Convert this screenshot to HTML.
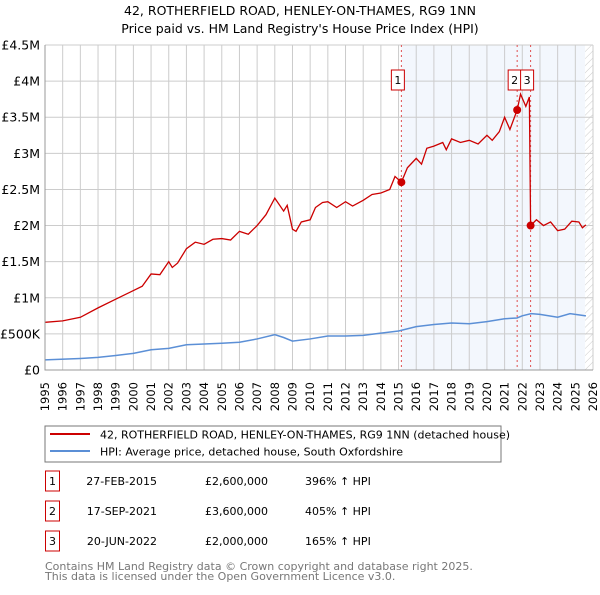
<!DOCTYPE html>
<html><head><meta charset="utf-8"><style>
body{margin:0;background:#fff;font-family:"Liberation Sans","DejaVu Sans",sans-serif;}
svg text{font-family:"DejaVu Sans","Liberation Sans",sans-serif;}
</style></head><body>
<svg id="c" width="600" height="590" xmlns="http://www.w3.org/2000/svg">
<defs><pattern id="hatch" width="5" height="5" patternUnits="userSpaceOnUse" patternTransform="rotate(45)"><line x1="0" y1="0" x2="0" y2="5" stroke="#ccc" stroke-width="1"/></pattern></defs>
<text x="300" y="15" text-anchor="middle" font-size="12.5" fill="#000">42, ROTHERFIELD ROAD, HENLEY-ON-THAMES, RG9 1NN</text>
<text x="300" y="33" text-anchor="middle" font-size="12.5" fill="#000">Price paid vs. HM Land Registry's House Price Index (HPI)</text>
<g id="grid"></g><g id="marks"></g><g id="axes"></g>
<rect x="45" y="426" width="456" height="36" fill="#fff" stroke="#777"/>
<line x1="50" y1="434" x2="90" y2="434" stroke="#cc0000" stroke-width="2"/>
<text x="100" y="438.5" font-size="11">42, ROTHERFIELD ROAD, HENLEY-ON-THAMES, RG9 1NN (detached house)</text>
<line x1="50" y1="451" x2="90" y2="451" stroke="#5b8fd6" stroke-width="2"/>
<text x="100" y="455.5" font-size="11">HPI: Average price, detached house, South Oxfordshire</text>
<g id="table" font-size="11"></g>
<text x="45" y="570" font-size="11" fill="#777">Contains HM Land Registry data © Crown copyright and database right 2025.</text>
<text x="45" y="580" font-size="11" fill="#777">This data is licensed under the Open Government Licence v3.0.</text>
</svg>
<script>
const priceYears=[1995,1996,1997,1998,1999,2000,2000.5,2001,2001.5,2002,2002.2,2002.5,2003,2003.5,2004,2004.5,2005,2005.5,2006,2006.5,2007,2007.5,2008,2008.5,2008.7,2009,2009.2,2009.5,2010,2010.3,2010.7,2011,2011.5,2012,2012.4,2013,2013.5,2014,2014.5,2014.8,2015.16,2015.5,2016,2016.3,2016.6,2017,2017.5,2017.7,2018,2018.5,2019,2019.5,2020,2020.3,2020.7,2021,2021.3,2021.71,2021.9,2022.2,2022.4,2022.47,2022.8,2023.2,2023.6,2024,2024.4,2024.8,2025.2,2025.4,2025.6];
const priceValues=[660,680,730,860,980,1100,1160,1330,1320,1500,1420,1480,1680,1770,1740,1810,1820,1800,1920,1880,2000,2150,2380,2200,2280,1950,1920,2050,2080,2250,2320,2330,2250,2330,2270,2350,2430,2450,2500,2680,2600,2800,2930,2850,3070,3100,3150,3050,3200,3150,3180,3130,3250,3180,3300,3500,3330,3600,3820,3650,3780,2000,2080,2000,2050,1930,1950,2060,2050,1970,2010];
const hpiYears=[1995,1997,1998,1999,2000,2001,2002,2003,2004,2005,2006,2007,2008,2008.5,2009,2010,2011,2012,2013,2014,2015,2016,2017,2018,2019,2020,2021,2021.7,2022,2022.5,2023,2024,2024.7,2025.6];
const hpiValues=[140,160,175,200,230,280,300,350,360,370,385,430,490,450,400,430,470,470,480,510,540,600,630,650,640,670,710,720,750,780,770,730,780,750];
const yTicks=[0,500,1000,1500,2000,2500,3000,3500,4000,4500];
const yTickLabels=["£0","£500K","£1M","£1.5M","£2M","£2.5M","£3M","£3.5M","£4M","£4.5M"];
const xTicks=[1995,1996,1997,1998,1999,2000,2001,2002,2003,2004,2005,2006,2007,2008,2009,2010,2011,2012,2013,2014,2015,2016,2017,2018,2019,2020,2021,2022,2023,2024,2025,2026];
const saleYears=[2015.16,2021.71,2022.47];
const saleValues=[2600,3600,2000];
const saleLabels=["1","2","3"];
const saleDates=["27-FEB-2015","17-SEP-2021","20-JUN-2022"];
const salePrices=["£2,600,000","£3,600,000","£2,000,000"];
const saleHpi=["396% ↑ HPI","405% ↑ HPI","165% ↑ HPI"];

const L=45,R=593,T=45,B=370;
const X=y=>L+(y-1995)/(2026-1995)*(R-L);
const Y=v=>B-v/4500*(B-T);
const NS="http://www.w3.org/2000/svg";
function mk(parent,tag,attrs){const e=document.createElementNS(NS,tag);for(const k in attrs)e.setAttribute(k,attrs[k]);document.getElementById(parent).appendChild(e);return e;}
let e;
e=mk('grid','rect',{x:X(saleYears[0]),y:T,width:X(2025.55)-X(saleYears[0]),height:B-T,fill:'#eef3fc',opacity:0.7});


e=mk('grid','rect',{x:X(2025.55),y:T,width:R-X(2025.55),height:B-T,fill:'url(#hatch)'});


xTicks.forEach(t=>{
 e=mk('grid','line',{x1:X(t),x2:X(t),y1:T,y2:B,stroke:'#ccc','stroke-width':1});
 
 
 e=mk('axes','text',{x:0,y:0,'text-anchor':'end','font-size':11.5,transform:`translate(${X(t)+4},382) rotate(-90)`});
 e.textContent=t;
 
 
});
yTicks.forEach((t,i)=>{
 e=mk('grid','line',{x1:L,x2:R,y1:Y(t),y2:Y(t),stroke:'#ccc','stroke-width':1});
 
 
 e=mk('axes','text',{x:40,y:Y(t)+4.5,'text-anchor':'end','font-size':12.5});
 e.textContent=yTickLabels[i];
 
 
});
e=mk('axes','path',{d:`M${L},${T}V${B}H${R}`,fill:'none',stroke:'#999'});


saleYears.forEach((s,i)=>{
 e=mk('marks','line',{x1:X(s),x2:X(s),y1:T,y2:B,stroke:'#e05050','stroke-dasharray':'2,3','stroke-width':1});
 
 
});
e=mk('marks','polyline',{points:hpiYears.map((y,i)=>X(y)+','+Y(hpiValues[i])).join(' '),fill:'none',stroke:'#5b8fd6','stroke-width':1.5});


e=mk('marks','polyline',{points:priceYears.map((y,i)=>X(y)+','+Y(priceValues[i])).join(' '),fill:'none',stroke:'#cc0000','stroke-width':1.3});


saleYears.forEach((s,i)=>{
 e=mk('marks','circle',{cx:X(s),cy:Y(saleValues[i]),r:4,fill:'#cc0000'});
 
 
 const bx=[X(s)-9,X(s)-8,X(s)-9][i];
 e=mk('marks','rect',{x:bx-1,y:70,width:13,height:20,fill:'#fff',stroke:'#cc0000'});
 
 
 e=mk('marks','text',{x:bx+5.5,y:84,'text-anchor':'middle','font-size':11});
 e.textContent=saleLabels[i];
 
 
 const ry=483+i*30;
 e=mk('table','rect',{x:45.5,y:ry-12,width:14,height:20,fill:'none',stroke:'#cc0000'});
 
 
 e=mk('table','text',{x:52.5,y:ry+2,'text-anchor':'middle'});
 e.textContent=saleLabels[i];
 
 
 e=mk('table','text',{x:157,y:ry+2,'text-anchor':'end'});
 e.textContent=saleDates[i];
 
 
 e=mk('table','text',{x:205,y:ry+2});
 e.textContent=salePrices[i];
 
 
 e=mk('table','text',{x:305,y:ry+2});
 e.textContent=saleHpi[i];
 
 
});
</script>
</body></html>
